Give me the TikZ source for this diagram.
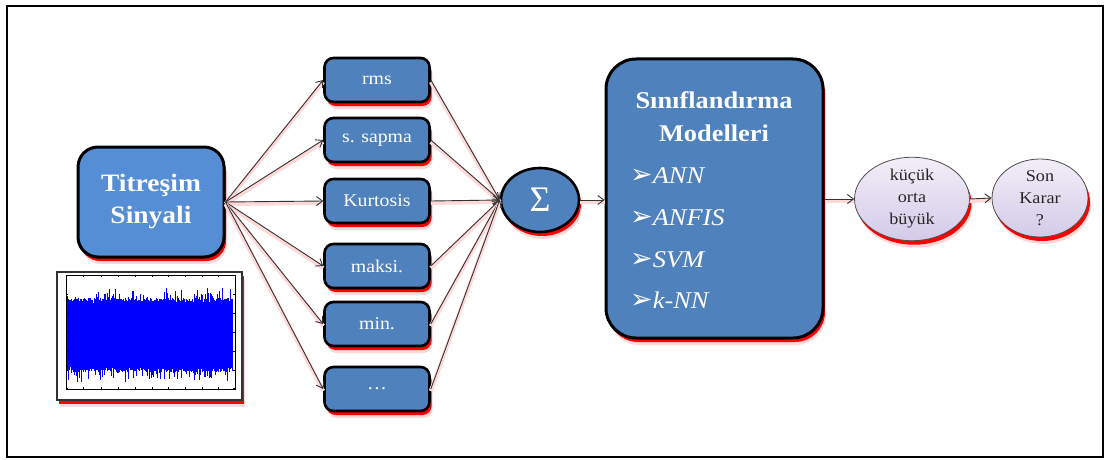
\documentclass[tikz,border=0pt]{standalone}
\usepackage{fontspec}
\setmainfont{Liberation Serif}[FakeStretch=1.1]
\newfontfamily\plainserif{Liberation Serif}
\newfontfamily\dingfont{DejaVu Sans}
\usetikzlibrary{shapes.geometric,shadows,arrows.meta}
\definecolor{boxblue}{RGB}{79,129,189}
\definecolor{litblue}{RGB}{85,142,213}
\definecolor{lavtop}{RGB}{242,238,248}
\definecolor{lavbot}{RGB}{212,202,232}
\begin{document}
\begin{tikzpicture}[x=1pt,y=-1pt,
  redshadow/.style={
    drop shadow={fill=red!15,opacity=1,shadow xshift=3pt,shadow yshift=-7pt,shadow scale=1},
    drop shadow={fill=red,opacity=1,shadow xshift=2pt,shadow yshift=-4pt,shadow scale=1}},
  bluebox/.style={draw=black,line width=2.6pt,fill=boxblue,rounded corners=9pt,
    minimum width=105pt,minimum height=44pt,inner sep=0pt,text=white,
    font=\fontsize{18}{20}\selectfont,redshadow},
  lavell/.style={ellipse,draw=black!70,line width=0.8pt,top color=lavtop,bottom color=lavbot,
    inner sep=0pt,align=center,font=\fontsize{16.5}{22}\selectfont,text=black!85,redshadow},
  conn/.style={draw=black!80,line width=0.9pt,-{Straight Barb[length=6pt,width=9pt]},
    preaction={draw=red!15,line width=4pt,-,transform canvas={yshift=-2pt}}},
  itemtxt/.style={anchor=base west,text=white,inner sep=0pt,font=\fontsize{24}{24}\selectfont\itshape},
  bullet/.style={font=\dingfont\upshape\fontsize{27}{27}\selectfont}
]
\useasboundingbox (0,0) rectangle (1105,460);
\draw[line width=2pt] (7,6) rectangle (1103,457);

% input box
\node[draw=black,line width=3pt,fill=litblue,rounded corners=20pt,minimum width=146pt,
  minimum height=110pt,align=center,text=white,inner sep=0pt,
  font=\fontsize{25}{32}\selectfont\bfseries,redshadow] (tit) at (151,202) {Titreşim\\Sinyali};

% signal plot
\node[draw=black!80,line width=1.2pt,fill=white,minimum width=185pt,minimum height=128pt,
  inner sep=0pt,redshadow] (plot) at (149.5,336) {};
\fill[blue] (67,303) rectangle (232,367);
\pgfmathsetseed{11}
\foreach \i in {0,...,330}{
  \pgfmathsetmacro\xx{67+\i*0.5}
  \pgfmathsetmacro\up{303-5*rnd-(rnd>0.75)*11*rnd}
  \pgfmathsetmacro\dn{367+5*rnd+(rnd>0.75)*11*rnd}
  \draw[blue,line width=0.55pt] (\xx,\up) -- (\xx,\dn);
}
\draw[line width=0.4pt] (66,275) rectangle (235,389);
\foreach \yy in {275,294,313,332,351,370,388}{
  \draw[line width=0.3pt] (66,\yy) -- (68,\yy) (235,\yy) -- (233,\yy);}
\foreach \xx in {66,83,101,118,135,152,168,185,202,218,235}{
  \draw[line width=0.3pt] (\xx,389) -- (\xx,387) (\xx,275) -- (\xx,277);}

% feature boxes
\node[bluebox] (f1) at (377,80) {rms};
\node[bluebox] (f2) at (377,140) {s. sapma};
\node[bluebox] (f3) at (377,201) {Kurtosis};
\node[bluebox] (f4) at (377,266) {maksi.};
\node[bluebox] (f5) at (377,324) {min.};
\node[bluebox] (f6) at (377,389) {\dots};

% sum node
\node[ellipse,draw=black,line width=2.6pt,fill=boxblue,minimum width=78pt,minimum height=64pt,
  inner sep=0pt,text=white,font=\plainserif\fontsize{36}{36}\selectfont,redshadow] (sum) at (540,200) {Σ};

% classification models
\node[draw=black,line width=3pt,fill=boxblue,rounded corners=30pt,minimum width=217pt,
  minimum height=279pt,inner sep=0pt,redshadow] (cls) at (714.5,198.5) {};
\node[anchor=base,text=white,inner sep=0pt,font=\fontsize{24}{24}\selectfont\bfseries] (t1) at (714,108) {Sınıflandırma};
\node[anchor=base,text=white,inner sep=0pt,font=\fontsize{24}{24}\selectfont\bfseries] (t2) at (714,141) {Modelleri};
\node[itemtxt] (m1) at (630,183) {{\dingfont\upshape\fontsize{27}{27}\selectfont ➢}ANN};
\node[itemtxt] (m2) at (630,225) {{\dingfont\upshape\fontsize{27}{27}\selectfont ➢}ANFIS};
\node[itemtxt] (m3) at (630,267) {{\dingfont\upshape\fontsize{27}{27}\selectfont ➢}SVM};
\node[itemtxt] (m4) at (630,308) {{\dingfont\upshape\fontsize{27}{27}\selectfont ➢}k-NN};

% outputs
\node[lavell,minimum width=115pt,minimum height=68pt] (e1) at (912,199) {küçük\\orta\\büyük};
\node[lavell,minimum width=96pt,minimum height=68pt] (e2) at (1040,198) {Son\\Karar\\?};

% connectors
\foreach \f in {f1,f2,f3,f4,f5,f6}{
  \draw[conn] (tit.east) -- (\f.west);
  \draw[conn] (\f.east) -- (sum.west);
}
\draw[conn] (sum.east) -- (cls.west |- sum.east);
\draw[conn] (cls.east |- e1.west) -- (e1.west);
\draw[conn] (e1.east) -- (e2.west);
\end{tikzpicture}
\end{document}
